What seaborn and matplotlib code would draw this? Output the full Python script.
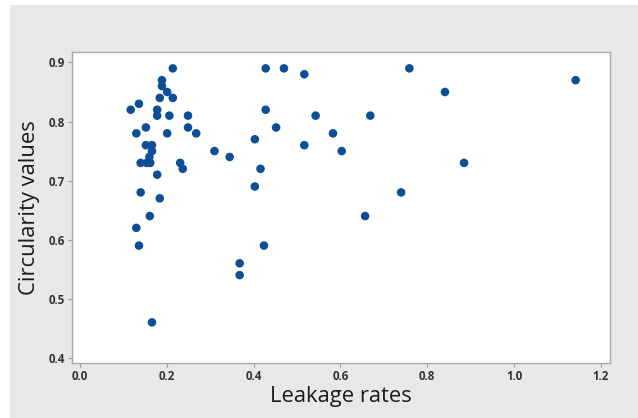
import pandas as pd
import seaborn as sns
import matplotlib.pyplot as plt
from matplotlib.patches import Rectangle

# Valores
leakage = [0.117, 0.136, 0.130, 0.152, 0.152, 0.166, 0.166, 0.160, 0.140, 0.154,
           0.162, 0.178, 0.140, 0.184, 0.161, 0.130, 0.136, 0.166, 0.178, 0.178,
           0.184, 0.189, 0.189, 0.201, 0.214, 0.214, 0.206, 0.201, 0.249, 0.249,
           0.268, 0.231, 0.237, 0.310, 0.345, 0.368, 0.368, 0.403, 0.403, 0.416,
           0.424, 0.428, 0.428, 0.452, 0.470, 0.517, 0.517, 0.543, 0.583, 0.603,
           0.657, 0.669, 0.740, 0.759, 0.841, 0.885, 1.142]
circularity = [0.82, 0.83, 0.78, 0.79, 0.76, 0.76, 0.75, 0.74, 0.73, 0.73,
               0.73, 0.71, 0.68, 0.67, 0.64, 0.62, 0.59, 0.46, 0.82, 0.81,
               0.84, 0.87, 0.86, 0.85, 0.84, 0.89, 0.81, 0.78, 0.81, 0.79,
               0.78, 0.73, 0.72, 0.75, 0.74, 0.56, 0.54, 0.77, 0.69, 0.72,
               0.59, 0.82, 0.89, 0.79, 0.89, 0.88, 0.76, 0.81, 0.78, 0.75,
               0.64, 0.81, 0.68, 0.89, 0.85, 0.73, 0.87]

x_ticks = [0.0, 0.2, 0.4, 0.6, 0.8, 1.0, 1.2]
y_ticks = [0.4, 0.5, 0.6, 0.7, 0.8, 0.9]

df = pd.DataFrame({'Leakage rates': leakage, 'Circularity values': circularity})

sns.set_style('white')
plt.rcParams['font.family'] = ['Open Sans', 'DejaVu Sans']

fig = plt.figure(figsize=(6.38, 4.18), dpi=100, facecolor='white')
# fondo gris del panel
fig.patches.append(Rectangle((10 / 638, 0), 1, 1 - 5 / 418, transform=fig.transFigure,
                             facecolor='#e8e8e8', edgecolor='none', zorder=-10))
ax = fig.add_axes([0.113, 0.132, 0.843, 0.744])
ax.set_facecolor('white')

sns.scatterplot(data=df, x='Leakage rates', y='Circularity values', ax=ax,
                color='#0d4f97', s=38, edgecolor='none')

ax.set_xlim(-0.018, 1.221)
ax.set_ylim(0.3915, 0.918)
ax.set_xticks(x_ticks)
ax.set_yticks(y_ticks)
ax.set_xticklabels([f'{t:.1f}' for t in x_ticks], fontsize=8.3, fontweight='bold', color='#333333')
ax.set_yticklabels([f'{t:.1f}' for t in y_ticks], fontsize=8.3, fontweight='bold', color='#333333')
ax.tick_params(axis='both', direction='out', length=3, width=0.8, color='#9a9a9a', pad=2,
               bottom=True, left=True)
for sp in ax.spines.values():
    sp.set_color('#a8a8a8')
    sp.set_linewidth(1.0)

ax.set_xlabel('Leakage rates', fontsize=15.8, color='#1a1a1a', labelpad=2)
ax.set_ylabel('Circularity values', fontsize=15.8, color='#1a1a1a', labelpad=6)

plt.savefig('out.png', dpi=100, facecolor=fig.get_facecolor())
